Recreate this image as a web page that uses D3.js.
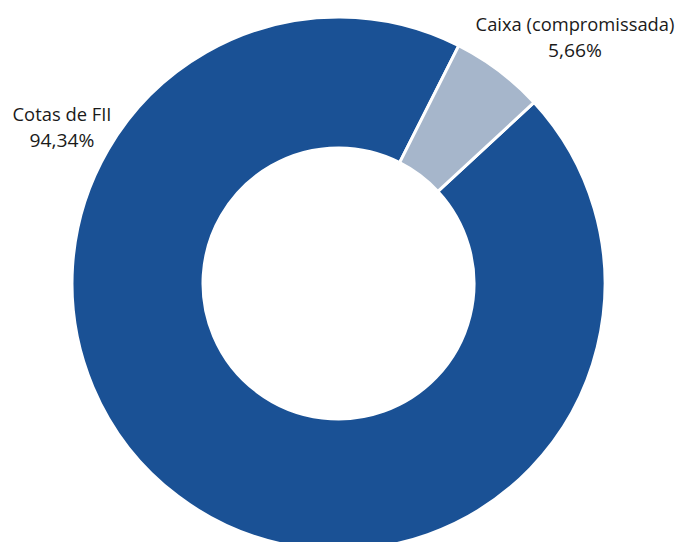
<!DOCTYPE html>
<html>
<head>
<meta charset="utf-8">
<script src="https://cdn.jsdelivr.net/npm/d3@7"></script>
<style>
  html, body { margin: 0; padding: 0; background: #ffffff; }
  svg { display: block; }
</style>
</head>
<body>
<svg id="chart" width="679" height="542"></svg>
<script>
// Portfolio composition
const categories = ["Cotas de FII", "Caixa (compromissada)"];
const values = [94.34, 5.66];
const valueLabels = ["94,34%", "5,66%"];
const colors = ["#1a5195", "#a6b6cb"];

const width = 679, height = 542;
const cx = 338.5, cy = 283.5;
const outerR = 266.5, innerR = 135.5;

// first slice begins at 47.2 degrees clockwise from the top
const start = 47.2 * Math.PI / 180;

const svg = d3.select("#chart");
const g = svg.append("g").attr("transform", `translate(${cx},${cy})`);

const pie = d3.pie().sort(null).value(d => d.value)
  .startAngle(start).endAngle(start + 2 * Math.PI);
const arc = d3.arc().innerRadius(innerR).outerRadius(outerR);

const data = categories.map((c, i) => ({ name: c, value: values[i], label: valueLabels[i], color: colors[i] }));

g.selectAll("path.slice")
  .data(pie(data))
  .join("path")
  .attr("class", "slice")
  .attr("d", arc)
  .attr("fill", d => d.data.color)
  .attr("stroke", "#ffffff")
  .attr("stroke-width", 3)
  .attr("stroke-linejoin", "miter");

// data labels (category name over percentage), condensed horizontally
const labelPos = [
  { x: 62, y: 121, w1: 99, w2: 65 },
  { x: 575, y: 31, w1: 199, w2: 54 }
];

const font = "'Open Sans', Lato, 'DejaVu Sans', sans-serif";

function addLine(x, y, str, targetW) {
  const grp = svg.append("g");
  const t = grp.append("text")
    .attr("x", 0).attr("y", 0)
    .attr("text-anchor", "middle")
    .attr("font-family", font)
    .attr("font-size", 19)
    .attr("fill", "#1a1a1a")
    .text(str);
  const natural = t.node().getComputedTextLength();
  const sx = natural > 0 ? targetW / natural : 1;
  grp.attr("transform", `translate(${x},${y}) scale(${sx},1)`);
}

data.forEach((d, i) => {
  const p = labelPos[i];
  addLine(p.x, p.y, d.name, p.w1);
  addLine(p.x, p.y + 25.5, d.label, p.w2);
});
</script>
</body>
</html>
